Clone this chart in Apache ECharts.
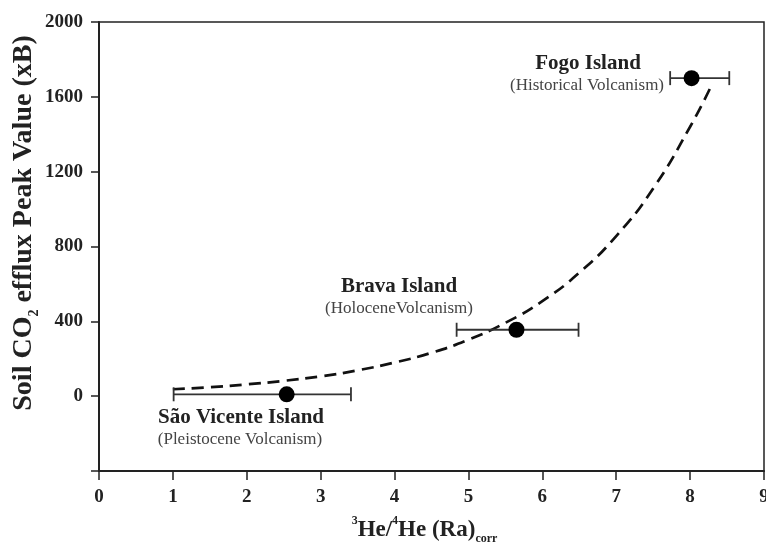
<!DOCTYPE html>
<html>
<head>
<meta charset="utf-8">
<script src="https://cdn.jsdelivr.net/npm/echarts@6/dist/echarts.min.js"></script>
<style>
  html, body { margin: 0; padding: 0; background: #fff; }
  #main { width: 766px; height: 550px; }
</style>
</head>
<body>
<div id="main"></div>
<script>
// islands: 3He/4He (Ra corr) vs soil CO2 efflux peak value
const islands = ['São Vicente Island', 'Brava Island', 'Fogo Island']
const heRatio = [2.54, 5.65, 8.02]
const heLow = [1.01, 4.84, 7.73]
const heHigh = [3.41, 6.49, 8.53]
const co2Peak = [10, 355, 1700]

// dashed fit curve
const curveX = [1, 1.5, 2, 2.5, 3, 3.5, 4, 4.5, 5, 5.5, 6, 6.5, 7, 7.5, 8, 8.3]
const curveY = [37, 48, 63, 82, 106, 138, 180, 232, 302, 392, 508, 660, 856, 1110, 1440, 1670]

const xTicks = [0, 1, 2, 3, 4, 5, 6, 7, 8, 9]
const yTicks = [-400, 0, 400, 800, 1200, 1600, 2000]

const dom = document.getElementById('main')
const myChart = echarts.init(dom)
const serif = 'Liberation Serif'
const ink = '#222'

const option = {
  animation: false,
  backgroundColor: '#fff',
  grid: {
    left: 99,
    right: 2,
    top: 22,
    bottom: 79,
    outerBoundsMode: 'none',
    show: true,
    borderColor: ink,
    borderWidth: 1.5
  },
  xAxis: {
    type: 'value',
    min: xTicks[0],
    max: xTicks[xTicks.length - 1],
    interval: 1,
    axisLine: { onZero: false, lineStyle: { color: ink, width: 2 } },
    axisTick: { length: 9, lineStyle: { color: ink, width: 1.5 } },
    splitLine: { show: false },
    axisLabel: {
      margin: 17,
      fontFamily: serif,
      fontWeight: 'bold',
      fontSize: 19,
      color: ink,
      showMaxLabel: true
    },
    name: '{sup|3}{b|He/}{sup|4}{b|He (Ra)}{sub|corr}',
    nameLocation: 'middle',
    nameGap: 44,
    nameTextStyle: {
      padding: [0, 14, 0, 0],
      rich: {
        b: { fontFamily: serif, fontWeight: 'bold', fontSize: 23, color: ink, verticalAlign: 'middle', lineHeight: 30 },
        sup: { fontFamily: serif, fontWeight: 'bold', fontSize: 12, color: ink, verticalAlign: 'top', lineHeight: 30 },
        sub: { fontFamily: serif, fontWeight: 'bold', fontSize: 12, color: ink, verticalAlign: 'bottom', lineHeight: 30, padding: [9, 0, 0, 0] }
      }
    }
  },
  yAxis: {
    type: 'value',
    min: yTicks[0],
    max: yTicks[yTicks.length - 1],
    interval: 400,
    axisLine: { lineStyle: { color: ink, width: 2 } },
    axisTick: { length: 8, lineStyle: { color: ink, width: 1.5 } },
    splitLine: { show: false },
    axisLabel: {
      margin: 16,
      fontFamily: serif,
      fontWeight: 'bold',
      fontSize: 19,
      color: ink,
      formatter: v => (v < 0 ? '' : String(v))
    }
  },
  graphic: [
    {
      type: 'text',
      x: 24,
      y: 223,
      rotation: Math.PI / 2,
      style: {
        text: '{b|Soil CO}{sub|2}{b| efflux Peak Value (xB)}',
        align: 'center',
        verticalAlign: 'middle',
        rich: {
          b: { fontFamily: serif, fontWeight: 'bold', fontSize: 28, fill: ink, verticalAlign: 'middle', lineHeight: 34 },
          sub: { fontFamily: serif, fontWeight: 'bold', fontSize: 14, fill: ink, verticalAlign: 'bottom', lineHeight: 34, padding: [11, 0, 0, 0] }
        }
      }
    },
    { type: 'text', x: 588, y: 64, style: { text: islands[2], align: 'center', verticalAlign: 'middle', fontFamily: serif, fontWeight: 'bold', fontSize: 21, fill: ink } },
    { type: 'text', x: 587, y: 86, style: { text: '(Historical Volcanism)', align: 'center', verticalAlign: 'middle', fontFamily: serif, fontSize: 17, fill: '#444' } },
    { type: 'text', x: 399, y: 287, style: { text: islands[1], align: 'center', verticalAlign: 'middle', fontFamily: serif, fontWeight: 'bold', fontSize: 21, fill: ink } },
    { type: 'text', x: 399, y: 309, style: { text: '(HoloceneVolcanism)', align: 'center', verticalAlign: 'middle', fontFamily: serif, fontSize: 17, fill: '#444' } },
    { type: 'text', x: 241, y: 418, style: { text: islands[0], align: 'center', verticalAlign: 'middle', fontFamily: serif, fontWeight: 'bold', fontSize: 21, fill: ink } },
    { type: 'text', x: 240, y: 440, style: { text: '(Pleistocene Volcanism)', align: 'center', verticalAlign: 'middle', fontFamily: serif, fontSize: 17, fill: '#444' } }
  ],
  series: [
    {
      name: 'fit',
      type: 'line',
      smooth: true,
      showSymbol: false,
      data: curveX.map((x, i) => [x, curveY[i]]),
      lineStyle: { color: '#111', width: 2.7, type: [12, 7] },
      z: 2
    },
    {
      name: 'error',
      type: 'custom',
      data: heRatio.map((x, i) => [heLow[i], heHigh[i], co2Peak[i]]),
      renderItem: (params, api) => {
        const a = api.coord([api.value(0), api.value(2)])
        const b = api.coord([api.value(1), api.value(2)])
        const cap = 7
        const style = { stroke: '#333', lineWidth: 1.8 }
        return {
          type: 'group',
          children: [
            { type: 'line', shape: { x1: a[0], y1: a[1], x2: b[0], y2: b[1] }, style },
            { type: 'line', shape: { x1: a[0], y1: a[1] - cap, x2: a[0], y2: a[1] + cap }, style },
            { type: 'line', shape: { x1: b[0], y1: b[1] - cap, x2: b[0], y2: b[1] + cap }, style }
          ]
        }
      },
      z: 3
    },
    {
      name: 'islands',
      type: 'scatter',
      symbolSize: 16,
      data: heRatio.map((x, i) => [x, co2Peak[i]]),
      itemStyle: { color: '#000', opacity: 1 },
      z: 4
    }
  ]
}

myChart.setOption(option)
</script>
</body>
</html>
